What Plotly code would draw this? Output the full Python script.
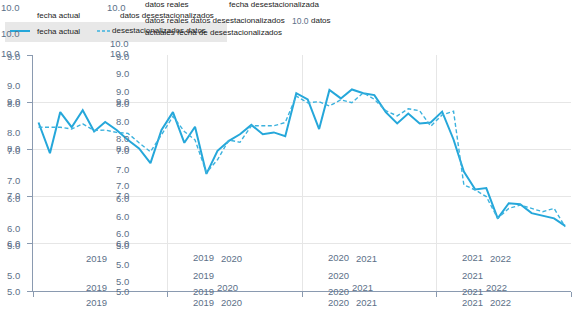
import plotly.graph_objects as go

# ---------------- data ----------------
years = [2019, 2020, 2021, 2022]
months = [f"{y}-{m:02d}-16" for y in years for m in range(1, 13)]

actual = [8.57, 7.92, 8.79, 8.47, 8.83, 8.38, 8.58, 8.41, 8.20, 8.02, 7.71, 8.41,
          8.79, 8.14, 8.48, 7.48, 7.97, 8.18, 8.32, 8.52, 8.32, 8.36, 8.28, 9.19,
          9.06, 8.43, 9.26, 9.08, 9.27, 9.19, 9.15, 8.79, 8.55, 8.76, 8.55, 8.57,
          8.80, 8.21, 7.53, 7.15, 7.18, 6.54, 6.86, 6.84, 6.65, 6.60, 6.54, 6.38]

seasonal = [8.47, 8.47, 8.47, 8.43, 8.54, 8.40, 8.41, 8.36, 8.34, 8.14, 7.95, 8.31,
            8.70, 8.38, 8.20, 7.51, 7.78, 8.20, 8.15, 8.50, 8.50, 8.50, 8.57, 9.13,
            8.99, 9.01, 8.92, 9.05, 8.99, 9.20, 9.06, 8.82, 8.71, 8.86, 8.82, 8.49,
            8.73, 8.81, 7.25, 7.14, 7.00, 6.54, 6.75, 6.82, 6.75, 6.68, 6.75, 6.36]

ytick_labels = ["10.0", "9.0", "8.0", "7.0", "6.0", "5.0"]
year_labels = ["2019", "2020", "2021", "2022"]

# ---------------- style ----------------
FONT = "Liberation Sans, Arial, sans-serif"
LINE = "#25a7da"
LBL = "#5c7088"
TXT = "#222222"
AX = "#8a9ab0"
GRID = "#e6e6e6"

L, R, T, B = 33, 1, 55, 20
W, H = 572, 311
PW, PH = W - L - R, H - T - B

fig = go.Figure()
fig.add_trace(go.Scatter(x=months, y=actual, mode="lines", name="fecha actual",
                         line=dict(color=LINE, width=2)))
fig.add_trace(go.Scatter(x=months, y=seasonal, mode="lines", name="desestacionalizados datos",
                         line=dict(color="#3cb2de", width=1.4, dash="4px,2.5px")))

annotations = []


def ann(px, py, text, anchor="right", color=LBL, size=9.5):
    annotations.append(dict(x=(px - L) / PW, y=(H - B - py) / PH, xref="paper", yref="paper",
                            text=text, showarrow=False, xanchor=anchor, yanchor="middle",
                            font=dict(size=size, color=color, family=FONT)))


# value label columns
grid_py = [55, 102.3, 149.6, 196.9, 244.2, 291.5]
for col_x in (22, 131):
    for i, py in enumerate(grid_py):
        if i < 5:
            ann(col_x, py - 1.2, ytick_labels[i])
            ann(col_x, py + 1.2, ytick_labels[i + 1])
        else:
            ann(col_x, py, ytick_labels[i])
    ann(col_x - (3 if col_x > 100 else 0), 7, ytick_labels[0])

for lab, py in zip(ytick_labels, [33, 85, 132, 180, 228, 275]):
    ann(22, py, lab)
for lab, py in zip(ytick_labels, [44, 91.7, 138, 185.7, 233, 281]):
    ann(131, py, lab)
for lab, py in zip(ytick_labels[1:], [73, 121, 169, 216, 264]):
    ann(131, py, lab)

# year labels
for py in (258, 287, 302):
    ann(96, py, year_labels[0], anchor="center")
for k, cx in enumerate([203, 338, 472.7]):
    ann(cx, 257, year_labels[k], anchor="center")
    ann(cx + 28, 258, year_labels[k + 1], anchor="center")
    ann(cx, 275, year_labels[k], anchor="center")
    ann(cx, 291.7, year_labels[k], anchor="center")
    ann(cx + 24, 287.3, year_labels[k + 1], anchor="center")
    ann(cx, 302.7, year_labels[k], anchor="center")
    ann(cx + 28, 302.7, year_labels[k + 1], anchor="center")

# header / legend texts
ann(35, 15, "fecha actual", anchor="left", color=TXT, size=8)
ann(118, 15, "datos desestacionalizados", anchor="left", color=TXT, size=8)
ann(143, 5, "datos reales", anchor="left", color=TXT, size=8)
ann(227, 5, "fecha desestacionalizada", anchor="left", color=TXT, size=8)
ann(143, 20.5, "datos reales datos desestacionalizados", anchor="left", color=TXT, size=8)
ann(290, 20.5, "10.0", anchor="left", color=LBL, size=8.5)
ann(309, 20.5, "datos", anchor="left", color=TXT, size=8)
ann(35, 31, "fecha actual", anchor="left", color=TXT, size=8)
ann(110, 30.5, "desestacionalizados datos", anchor="left", color=TXT, size=8)
ann(143, 32, "actuales fecha de desestacionalizados", anchor="left", color=TXT, size=8)


def px2x(px):
    return (px - L) / PW


def py2y(py):
    return (H - B - py) / PH


shapes = [
    dict(type="rect", xref="paper", yref="paper", x0=px2x(5), x1=px2x(227), y0=py2y(42), y1=py2y(22),
         fillcolor="#e8e8e8", line=dict(width=0), layer="above"),
    dict(type="line", xref="paper", yref="paper", x0=px2x(10), x1=px2x(30), y0=py2y(31), y1=py2y(31),
         line=dict(color=LINE, width=2), layer="above"),
    dict(type="line", xref="paper", yref="paper", x0=px2x(97), x1=px2x(110), y0=py2y(31), y1=py2y(31),
         line=dict(color="#3cb2de", width=1.4, dash="3px,2px"), layer="above"),
]

fig.update_layout(
    width=W, height=H,
    margin=dict(l=L, r=R, t=T, b=B, pad=0),
    paper_bgcolor="white", plot_bgcolor="white",
    showlegend=False,
    annotations=annotations,
    shapes=shapes,
    font=dict(family=FONT),
    xaxis=dict(type="date", range=["2019-01-01", "2023-01-01"], tick0="2019-01-01", dtick="M12",
               showticklabels=False, ticks="outside", ticklen=5, tickcolor=AX,
               showline=True, linecolor=AX, linewidth=1.2, showgrid=True, gridcolor=GRID,
               zeroline=False),
    yaxis=dict(range=[5, 10], dtick=1, showticklabels=False, ticks="outside", ticklen=5,
               tickcolor=AX, showline=True, linecolor=AX, linewidth=1.2, showgrid=True,
               gridcolor=GRID, zeroline=False),
)

fig.write_html("out.html", config={"displayModeBar": False},
               post_script="document.body.style.margin='0';")
